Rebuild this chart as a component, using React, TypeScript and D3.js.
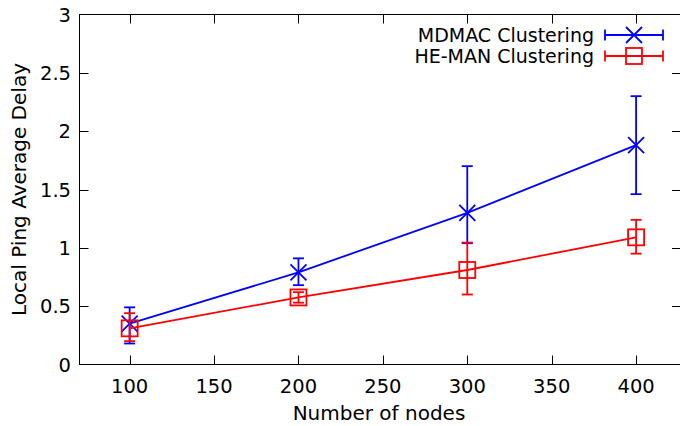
import React from 'react';
import * as d3 from 'd3';

const nodes = [100, 200, 300, 400];

const mdmacMean = [0.35, 0.79, 1.3, 1.88];
const mdmacLow = [0.18, 0.68, 1.04, 1.46];
const mdmacHigh = [0.49, 0.91, 1.7, 2.3];

const hemanMean = [0.31, 0.575, 0.81, 1.09];
const hemanLow = [0.2, 0.53, 0.6, 0.95];
const hemanHigh = [0.44, 0.62, 1.045, 1.24];

const xTicks = [100, 150, 200, 250, 300, 350, 400];
const yTicks = [0, 0.5, 1, 1.5, 2, 2.5, 3];

const seriesNames = ['MDMAC Clustering', 'HE-MAN Clustering'];
const seriesColors = ['#0000ff', '#ff0000'];

const W = 680;
const H = 426;
const left = 79.5;
const top = 14.5;
const bottom = 364.5;
const right = 681;

const font = 'DejaVu Sans, sans-serif';
const sw = 1.8;

function Marker({ kind, cx, cy, color }: { kind: number; cx: number; cy: number; color: string }) {
  const s = 8;
  if (kind === 0) {
    return (
      <path
        d={`M${cx - s},${cy - s}L${cx + s},${cy + s}M${cx - s},${cy + s}L${cx + s},${cy - s}`}
        stroke={color}
        strokeWidth={sw}
        fill="none"
      />
    );
  }
  return <rect x={cx - s} y={cy - s} width={2 * s} height={2 * s} stroke={color} strokeWidth={sw} fill="none" />;
}

export default function App() {
  const x = d3.scaleLinear().domain([70.3, 426.6]).range([left, right]);
  const y = d3.scaleLinear().domain([0, 3]).range([bottom, top]);

  const series = [
    { mean: mdmacMean, low: mdmacLow, high: mdmacHigh },
    { mean: hemanMean, low: hemanLow, high: hemanHigh },
  ];

  const line = d3
    .line<number>()
    .x((_, i) => x(nodes[i]))
    .y((d) => y(d));

  const cap = 5.5;
  const tick = 9;

  return (
    <svg width={W} height={H} style={{ position: 'absolute', left: 0, top: 0, background: '#fff' }}>
      {/* frame */}
      <rect x={left} y={top} width={right - left} height={bottom - top} fill="none" stroke="#000" strokeWidth={1} />
      {yTicks.map((t) => (
        <g key={'y' + t}>
          {t > 0 && t < 3 && (
            <>
              <line x1={left} x2={left + tick} y1={Math.round(y(t)) + 0.5} y2={Math.round(y(t)) + 0.5} stroke="#000" />
              <line x1={right - tick} x2={right} y1={Math.round(y(t)) + 0.5} y2={Math.round(y(t)) + 0.5} stroke="#000" />
            </>
          )}
          <text x={71} y={y(t)} dy="0.36em" textAnchor="end" fontFamily={font} fontSize={19.5} fill="#000">
            {t}
          </text>
        </g>
      ))}
      {xTicks.map((t) => (
        <g key={'x' + t}>
          <line x1={Math.round(x(t)) + 0.5} x2={Math.round(x(t)) + 0.5} y1={bottom} y2={bottom - tick} stroke="#000" />
          <line x1={Math.round(x(t)) + 0.5} x2={Math.round(x(t)) + 0.5} y1={top} y2={top + tick} stroke="#000" />
          <text x={x(t)} y={393} textAnchor="middle" fontFamily={font} fontSize={19.5} fill="#000">
            {t}
          </text>
        </g>
      ))}
      <text x={379} y={420} textAnchor="middle" fontFamily={font} fontSize={20} fill="#000">
        Number of nodes
      </text>
      <text
        transform={`translate(26,${(top + bottom) / 2}) rotate(-90)`}
        textAnchor="middle"
        fontFamily={font}
        fontSize={20}
        fill="#000"
      >
        Local Ping Average Delay
      </text>

      {series.map((s, k) => {
        const c = seriesColors[k];
        return (
          <g key={k}>
            {nodes.map((n, i) => (
              <g key={n} stroke={c} strokeWidth={sw}>
                <line x1={x(n)} x2={x(n)} y1={y(s.low[i])} y2={y(s.high[i])} />
                <line x1={x(n) - cap} x2={x(n) + cap} y1={y(s.low[i])} y2={y(s.low[i])} />
                <line x1={x(n) - cap} x2={x(n) + cap} y1={y(s.high[i])} y2={y(s.high[i])} />
              </g>
            ))}
            <path d={line(s.mean) || ''} stroke={c} strokeWidth={sw} fill="none" />
            {nodes.map((n, i) => (
              <Marker key={n} kind={k} cx={x(n)} cy={y(s.mean[i])} color={c} />
            ))}
          </g>
        );
      })}

      {/* legend */}
      {seriesNames.map((name, k) => {
        const ly = 35 + k * 21;
        const c = seriesColors[k];
        return (
          <g key={name}>
            <text x={594} y={ly} dy="0.36em" textAnchor="end" fontFamily={font} fontSize={19} fill="#000">
              {name}
            </text>
            <g stroke={c} strokeWidth={sw}>
              <line x1={605} x2={663} y1={ly} y2={ly} />
              <line x1={605} x2={605} y1={ly - cap} y2={ly + cap} />
              <line x1={663} x2={663} y1={ly - cap} y2={ly + cap} />
            </g>
            <Marker kind={k} cx={634} cy={ly} color={c} />
          </g>
        );
      })}
    </svg>
  );
}
